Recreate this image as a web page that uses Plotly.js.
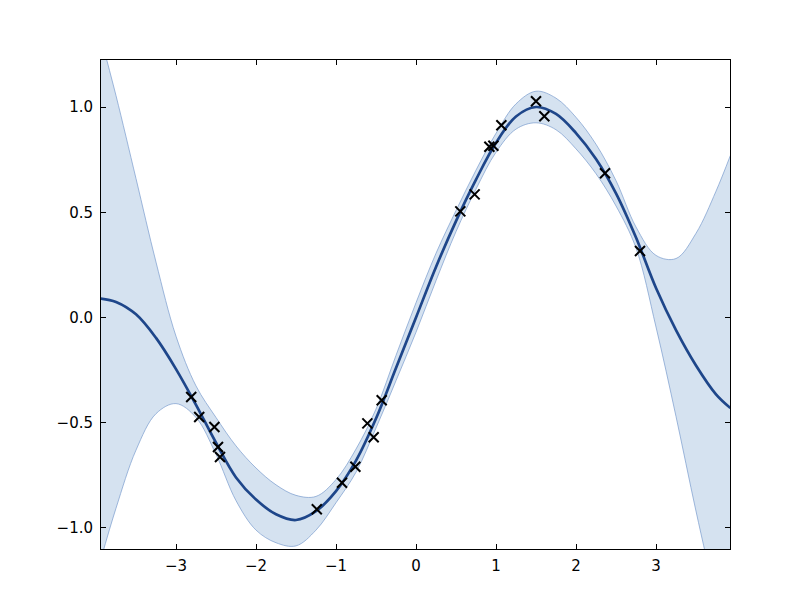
<!DOCTYPE html>
<html>
<head>
<meta charset="utf-8">
<script src="https://cdn.plot.ly/plotly-3.0.1.min.js"></script>
<style>html,body{margin:0;padding:0;background:#fff;}#chart{width:812px;height:612px;}</style>
</head>
<body>
<div id="chart"></div>
<script>
// Posterior grid
const gridX = [-3.94, -3.75, -3.5, -3.25, -3.0, -2.75, -2.5, -2.25, -2.0, -1.75, -1.5, -1.25, -1.0, -0.75, -0.5, -0.25, 0, 0.25, 0.5, 0.75, 1.0, 1.25, 1.5, 1.75, 2.0, 2.25, 2.5, 2.75, 3.0, 3.25, 3.5, 3.75, 3.93];
const meanY  = [0.09, 0.074, 0.015, -0.097, -0.245, -0.415, -0.595, -0.76, -0.865, -0.935, -0.962, -0.92, -0.825, -0.68, -0.48, -0.24, 0.0, 0.24, 0.458, 0.655, 0.83, 0.955, 1.0, 0.967, 0.876, 0.753, 0.59, 0.38, 0.14, -0.06, -0.228, -0.365, -0.43];
const upperY = [1.33, 1.054, 0.66, 0.263, -0.089, -0.325, -0.475, -0.61, -0.715, -0.795, -0.845, -0.85, -0.77, -0.625, -0.435, -0.18, 0.07, 0.305, 0.508, 0.70, 0.875, 1.015, 1.075, 1.042, 0.951, 0.823, 0.65, 0.43, 0.295, 0.28, 0.40, 0.60, 0.77];
const lowerY = [-1.15, -0.906, -0.63, -0.457, -0.409, -0.475, -0.65, -0.87, -1.01, -1.07, -1.085, -1.01, -0.88, -0.735, -0.525, -0.30, -0.07, 0.175, 0.408, 0.61, 0.785, 0.895, 0.925, 0.892, 0.801, 0.683, 0.53, 0.33, -0.045, -0.47, -0.92, -1.34, -1.63];

// Observations
const obsX = [-2.81, -2.71, -2.52, -2.475, -2.45, -1.24, -0.925, -0.758, -0.608, -0.529, -0.429, 0.554, 0.733, 0.917, 0.967, 1.067, 1.5, 1.604, 2.3625, 2.8];
const obsY = [-0.378, -0.473, -0.520, -0.615, -0.663, -0.911, -0.785, -0.709, -0.503, -0.569, -0.393, 0.504, 0.585, 0.811, 0.816, 0.913, 1.027, 0.956, 0.685, 0.316];

const xTicks = [-3, -2, -1, 0, 1, 2, 3];
const yTicks = [-1.0, -0.5, 0.0, 0.5, 1.0];

const edge = {color: 'rgb(120,155,205)', width: 0.7, shape: 'spline', smoothing: 1};
const traces = [
  {x: gridX, y: lowerY, mode: 'lines', line: edge, hoverinfo: 'skip', showlegend: false},
  {x: gridX, y: upperY, mode: 'lines', line: edge, fill: 'tonexty', fillcolor: 'rgb(213,226,240)', hoverinfo: 'skip', showlegend: false},
  {x: gridX, y: meanY, mode: 'lines', line: {color: 'rgb(30,70,138)', width: 2.7, shape: 'spline', smoothing: 1}, showlegend: false},
  {x: obsX, y: obsY, mode: 'markers', marker: {symbol: 'x-thin', size: 10, color: '#000', line: {color: '#000', width: 2}}, showlegend: false}
];

const axisCommon = {
  showline: true, linecolor: '#000', linewidth: 1, mirror: 'ticks',
  ticks: 'inside', ticklen: 5, tickwidth: 1, tickcolor: '#000',
  showgrid: false, zeroline: false,
  tickfont: {family: 'DejaVu Sans', size: 15, color: '#000'}
};

const layout = {
  width: 812, height: 612,
  margin: {l: 101, r: 82, t: 60, b: 63},
  paper_bgcolor: '#fff', plot_bgcolor: '#fff',
  xaxis: Object.assign({}, axisCommon, {range: [-3.9375, 3.925], tickvals: xTicks, ticktext: xTicks.map(v => (v < 0 ? '\u2212' : '') + Math.abs(v)), ticklabelstandoff: 3}),
  yaxis: Object.assign({}, axisCommon, {range: [-1.0998, 1.2233], tickvals: yTicks, ticktext: yTicks.map(v => (v < 0 ? '\u2212' : '') + Math.abs(v).toFixed(1)), ticklabelstandoff: 4}),
  showlegend: false
};

Plotly.newPlot('chart', traces, layout, {displayModeBar: false, staticPlot: true});
</script>
</body>
</html>
